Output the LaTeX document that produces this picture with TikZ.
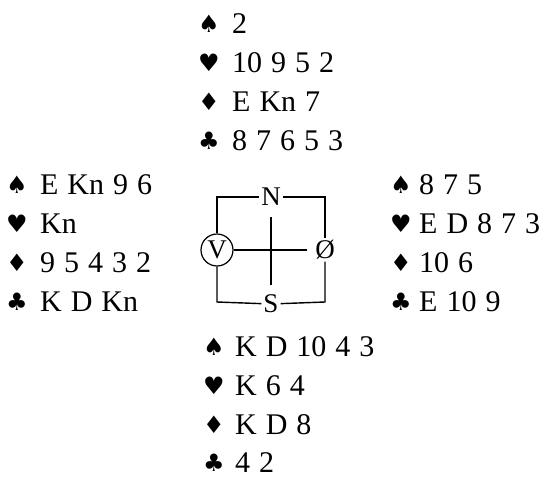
\documentclass[tikz,border=0pt]{standalone}
\usepackage{fontspec}
\setmainfont{Liberation Serif}[WordSpace=1.2]
\newfontfamily\suitfont{DejaVu Sans}
\usepackage{tikz}
\usetikzlibrary{positioning}

\begin{document}
\begin{tikzpicture}
               [x=1pt, y=-1pt,
                suit/.style = {inner sep=0pt, font=\suitfont\fontsize{24}{26}\selectfont},
                cards/.style = {anchor=west, inner sep=0pt, font=\fontsize{30}{32}\selectfont},
                seat/.style = {inner sep=2pt, font=\fontsize{27}{29}\selectfont},
                rim/.style = {line width=1.4pt}]
                \useasboundingbox (0,0) rectangle (547,477);
                % North
                \node[suit] (ns) at (209,24) {♠};
                \node[suit] (nh) at (209,63) {♥};
                \node[suit] (nd) at (209,102) {♦};
                \node[suit] (nc) at (209,141) {♣};
                \node[cards] (nsc) at (232,24) {2};
                \node[cards] (nhc) at (232,63) {10 9 5 2};
                \node[cards] (ndc) at (232,102) {E Kn 7};
                \node[cards] (ncc) at (232,141) {8 7 6 5 3};
                % West
                \node[suit] (ws) at (17,185) {♠};
                \node[suit] (wh) at (17,224) {♥};
                \node[suit] (wd) at (17,263) {♦};
                \node[suit] (wc) at (17,302) {♣};
                \node[cards] (wsc) at (40,185) {E Kn 9 6};
                \node[cards] (whc) at (40,224) {Kn};
                \node[cards] (wdc) at (40,263) {9 5 4 3 2};
                \node[cards] (wcc) at (40,302) {K D Kn};
                % East
                \node[suit] (es) at (401,185) {♠};
                \node[suit] (eh) at (401,224) {♥};
                \node[suit] (ed) at (401,263) {♦};
                \node[suit] (ec) at (401,302) {♣};
                \node[cards] (esc) at (419,185) {8 7 5};
                \node[cards] (ehc) at (419,224) {E D 8 7 3};
                \node[cards] (edc) at (419,263) {10 6};
                \node[cards] (ecc) at (419,302) {E 10 9};
                % South
                \node[suit] (ss) at (214,347) {♠};
                \node[suit] (sh) at (214,386) {♥};
                \node[suit] (sd) at (214,425) {♦};
                \node[suit] (sc) at (214,463) {♣};
                \node[cards] (ssc) at (235,347) {K D 10 4 3};
                \node[cards] (shc) at (235,386) {K 6 4};
                \node[cards] (sdc) at (235,425) {K D 8};
                \node[cards] (scc) at (235,463) {4 2};
                % Compass
                \node[seat] (N) at (271,197) {N};
                \node[seat] (S) at (271,304) {S};
                \node[seat, draw, circle, line width=1.2pt, inner sep=1pt, minimum size=32pt] (V) at (217,250) {V};
                \node[seat] (O) at (325,250) {Ø};
                \coordinate (tl) at (217,197);
                \coordinate (tr) at (325,197);
                \coordinate (bl) at (217,302);
                \coordinate (br) at (325,302);
                \coordinate (top) at (271,217);
                \coordinate (bot) at (271,285);
                \coordinate (mid) at (307,250);
                % Lines
                \draw[rim] (V) -- (tl) -- (N);
                \draw[rim] (N) -- (tr) -- (O);
                \draw[rim] (V) -- (bl) -- (S);
                \draw[rim] (S) -- (br) -- (O);
                \draw[rim] (top) -- (bot);
                \draw[rim] (V) -- (mid);
            \end{tikzpicture}
\end{document}
